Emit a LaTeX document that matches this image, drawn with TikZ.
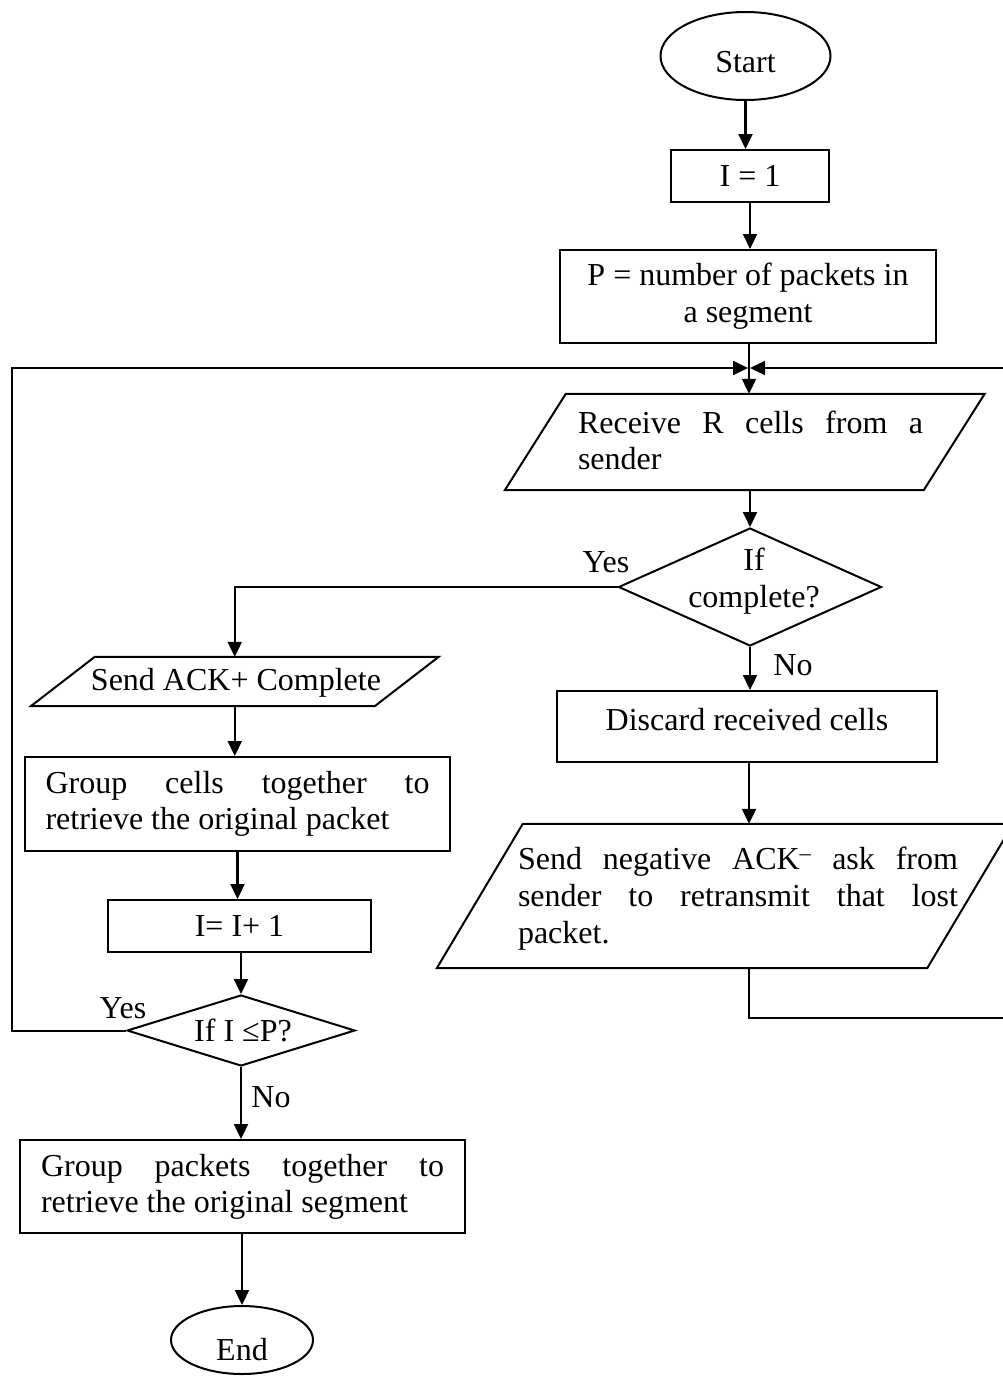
\documentclass[tikz,border=0pt]{standalone}
\usepackage{fontspec}
\setmainfont{Liberation Serif}
\usetikzlibrary{shapes.geometric,arrows.meta}
\hyphenpenalty=10000
\exhyphenpenalty=10000
\tolerance=10000
\hbadness=10000

% outline of a slanted input/output box drawn around a rectangular body node
\newcommand\paraoutline[2]{%
  \draw[outline] ([xshift=#2/2]#1.north west) -- ([xshift=#2/2]#1.north east)
    -- ([xshift=-#2/2]#1.south east) -- ([xshift=-#2/2]#1.south west) -- cycle;}

\begin{document}
\begin{tikzpicture}[
  x=1pt, y=1pt,
  every node/.style={inner sep=0pt, font=\fontsize{32}{36}\selectfont},
  outline/.style={line width=2pt, line join=miter},
  box/.style={draw, outline, rectangle},
  term/.style={draw, outline, ellipse},
  decision/.style={draw, outline, diamond},
  body/.style={rectangle},
  flow/.style={line width=2.2pt, -{Triangle[length=15pt,width=14pt]}},
  loopline/.style={line width=2pt}
]
\useasboundingbox (0,0) rectangle (1003,-1376);

% ---- right column: setup and receiving ----
\node[term, minimum width=170pt, minimum height=88pt, text height=32pt, text depth=0pt] (start) at (745.5,-56) {Start};
\node[box, minimum width=158pt, minimum height=52pt] (i1) at (750,-176) {I = 1};
\node[box, minimum width=376pt, minimum height=93pt, align=center, font=\fontsize{32}{37}\selectfont] (pset) at (748,-296.5) {P = number of packets in\\a segment};
\coordinate (m) at (749,-368);

\node[body, minimum width=418.5pt, minimum height=96pt] (recv) at (744.75,-442) {};
\paraoutline{recv}{61}
\node[text width=345pt, align=justify] (recvT) at (750.5,-440) {Receive R cells from a sender};

\node[decision, minimum width=263pt, minimum height=118pt] (d1) at (750,-587) {};
\node[align=center, font=\fontsize{32}{37}\selectfont] (d1T) at (754,-581) {If\\complete?};
\node (yes1) at (606,-562) {Yes};
\node (no1) at (793,-665) {No};

\node[box, minimum width=380pt, minimum height=71pt, text height=22pt, text depth=15pt] (discard) at (747,-726.5) {Discard received cells};

\node[body, minimum width=490pt, minimum height=144pt] (neg) at (725,-896) {};
\paraoutline{neg}{86}
\node[text width=440pt, align=justify, font=\fontsize{32}{37}\selectfont] (negT) at (738,-898.5) {Send negative ACK\textsuperscript{–} ask from sender to retransmit that lost packet.};
\coordinate (rlow) at (1003.5,-1018);

% ---- left column: acknowledgement and reassembly ----
\node[body, minimum width=343.5pt, minimum height=49pt] (ack) at (234.75,-681.5) {};
\paraoutline{ack}{64}
\node (ackT) at (236,-683) {Send ACK+ Complete};

\node[box, minimum width=425pt, minimum height=94pt, text width=384pt, align=justify] (gcell) at (237.5,-804) {Group cells together to retrieve the original packet};
\node[box, minimum width=263pt, minimum height=52pt] (i2) at (239.5,-926) {I= I+ 1};

\node[decision, minimum width=228pt, minimum height=71pt] (d2) at (241,-1030.5) {};
\node (d2T) at (243,-1030) {If I ≤P?};
\node (yes2) at (123,-1008) {Yes};
\node (no2) at (271,-1097) {No};
\coordinate (lc) at (12,-368);

\node[box, minimum width=445pt, minimum height=93pt, text width=403pt, align=justify] (gpack) at (242.5,-1186.5) {Group packets together to retrieve the original segment};
\node[term, minimum width=142pt, minimum height=68pt, text height=40pt, text depth=0pt] (end) at (242,-1340) {End};

% ---- connectors ----
\draw[flow] (start.south) -- (start.south |- i1.north);
\draw[flow] (i1.south) -- (i1.south |- pset.north);
\draw[flow] (pset.south -| m) -- (recv.north -| m);
\draw[flow] (d1.north |- recv.south) -- (d1.north);
\draw[flow] (d1.south) -- (d1.south |- discard.north);
\draw[flow] (discard.south -| m) -- (neg.north -| m);
\draw[flow, loopline] (neg.south -| m) |- (rlow) |- ([xshift=1pt]m);

\draw[flow] (d1.west) -| (ack.north);
\draw[flow] (ack.south) -- (ack.south |- gcell.north);
\draw[flow] (gcell.south) -- (gcell.south |- i2.north);
\draw[flow] (d2.north |- i2.south) -- (d2.north);
\draw[flow] (d2.south) -- (d2.south |- gpack.north);
\draw[flow] (end.north |- gpack.south) -- (end.north);
\draw[flow, loopline] (d2.west) -| (lc) -- ([xshift=-1pt]m);
\end{tikzpicture}
\end{document}
